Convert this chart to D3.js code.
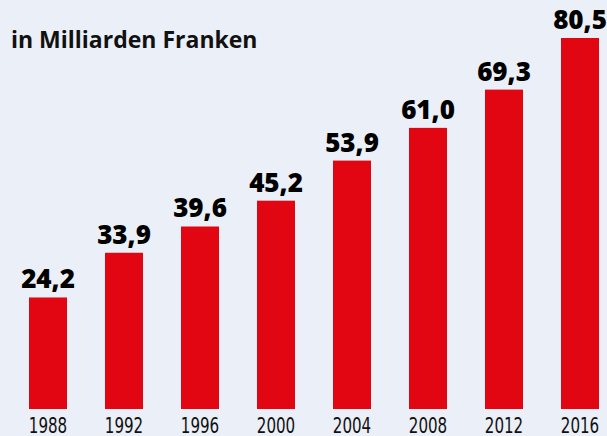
<!DOCTYPE html>
<html><head><meta charset="utf-8">
<script src="https://cdn.jsdelivr.net/npm/d3@7"></script>
<style>
html,body{margin:0;padding:0;background:#ebeff7;}
svg{display:block;}
</style></head>
<body>
<script>
const years = ["1988","1992","1996","2000","2004","2008","2012","2016"];
const values = [24.2, 33.9, 39.6, 45.2, 53.9, 61.0, 69.3, 80.5];
const valueLabels = ["24,2","33,9","39,6","45,2","53,9","61,0","69,3","80,5"];
const title = "in Milliarden Franken";

const W = 607, H = 436;
const svg = d3.select("body").append("svg").attr("width", W).attr("height", H);
svg.append("rect").attr("width", W).attr("height", H).attr("fill", "#ebeff7");

const x = d3.scaleBand().domain(years).range([10, 618]).paddingInner(0.5).paddingOuter(0.25);
const y = d3.scaleLinear().domain([0, 80.5]).range([409, 38]);

svg.append("g").selectAll("rect").data(values).join("rect")
  .attr("x", (d, i) => x(years[i]))
  .attr("width", x.bandwidth())
  .attr("y", d => y(d))
  .attr("height", d => y(0) - y(d))
  .attr("fill", "#e20613");

svg.append("g").selectAll("text").data(values).join("text")
  .attr("x", (d, i) => x(years[i]) + x.bandwidth() / 2)
  .attr("y", d => y(d) - 9)
  .attr("text-anchor", "middle")
  .attr("font-family", "'Open Sans', sans-serif")
  .attr("font-weight", 800)
  .attr("font-size", 26)
  .attr("fill", "#000")
  .text((d, i) => valueLabels[i]);

const xAxis = d3.axisBottom(x).tickSize(0).tickPadding(0);
const ax = svg.append("g").attr("transform", "translate(0,414)").call(xAxis);
ax.select(".domain").remove();
ax.selectAll("text")
  .attr("dy", null)
  .attr("y", 19)
  .attr("transform", "scale(0.82,1)")
  .attr("font-family", "'Liberation Sans Narrow', 'DejaVu Sans Condensed', sans-serif")
  .attr("font-size", 20.5)
  .attr("fill", "#111");

svg.append("text")
  .attr("x", 11).attr("y", 48)
  .attr("font-family", "'Open Sans', sans-serif")
  .attr("font-weight", "bold")
  .attr("font-size", 23)
  .attr("fill", "#111")
  .text(title);
</script>
</body></html>
